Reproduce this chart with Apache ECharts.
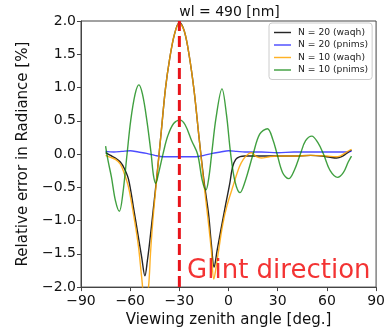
<!DOCTYPE html>
<html>
<head>
<meta charset="utf-8">
<script src="https://cdn.jsdelivr.net/npm/echarts@6/dist/echarts.min.js"></script>
<style>html,body{margin:0;padding:0;background:#fff}#c{width:388px;height:333px}</style>
</head>
<body>
<div id="c"></div>
<script>
const titleText = 'wl = 490 [nm]';
const xName = 'Viewing zenith angle [deg.]';
const yName = 'Relative error in Radiance [%]';
const seriesNames = ['N = 20 (waqh)', 'N = 20 (pnims)', 'N = 10 (waqh)', 'N = 10 (pnims)'];
const xTicks = [-90, -60, -30, 0, 30, 60, 90];
const yTicks = [-2.0, -1.5, -1.0, -0.5, 0.0, 0.5, 1.0, 1.5, 2.0];
const glintAngle = -30;
const glintLabel = 'Glint direction';

const n20waqh = [[-75,0.02],[-72,-0.02],[-69,-0.06],[-66,-0.12],[-63.5,-0.22],[-61,-0.38],[-58,-0.8],[-55,-1.25],[-53,-1.55],[-51,-1.83],[-49.5,-1.6],[-48,-1.3],[-46,-0.85],[-44,-0.4],[-41,0.35],[-38.5,0.98],[-36,1.42],[-33,1.8],[-30,1.98],[-27,1.85],[-24,1.48],[-21,0.95],[-18,0.25],[-15,-0.4],[-12.2,-0.9],[-10.5,-1.35],[-8.8,-1.7],[-7,-1.45],[-4,-1.05],[-1.7,-0.75],[0.7,-0.45],[2.4,-0.2],[4.4,-0.08],[7,-0.04],[10,-0.03],[20,-0.03],[30,-0.03],[40,-0.03],[50,-0.02],[57,-0.03],[62,-0.05],[66,-0.06],[69,-0.04],[72,0.01],[75,0.06]];
const n20pnims = [[-75,0.04],[-70,0.03],[-65,0.04],[-60,0.05],[-55,0.03],[-50,0.01],[-45,-0.02],[-40,-0.04],[-30,-0.04],[-20,-0.04],[-15,-0.02],[-10,0.01],[-5,0.03],[0,0.05],[5,0.04],[10,0.03],[20,0.03],[30,0.02],[40,0.03],[50,0.03],[60,0.03],[70,0.03],[75,0.04]];
const n10waqh = [[-75,-0.02],[-72,-0.05],[-69,-0.08],[-66,-0.15],[-63.5,-0.3],[-61,-0.5],[-58,-0.9],[-55,-1.38],[-53,-1.85],[-51,-2.25],[-49,-2.05],[-47.5,-1.45],[-46,-0.95],[-44,-0.42],[-41,0.35],[-38.5,0.98],[-36,1.42],[-33,1.8],[-30,1.97],[-27,1.85],[-24,1.48],[-21,0.95],[-18,0.25],[-15,-0.45],[-12.2,-1.05],[-10.5,-1.45],[-9,-1.88],[-7,-1.6],[-3.7,-1.08],[-1,-0.78],[2.5,-0.5],[6.5,-0.2],[9,-0.08],[12,0.0],[14,0.02],[17,-0.04],[20,-0.06],[25,-0.04],[30,-0.03],[40,-0.03],[50,-0.02],[60,-0.03],[65,-0.04],[68,-0.03],[72,0.03],[75,0.07]];
const n10pnims = [[-75,0.12],[-73.5,-0.1],[-71.4,-0.35],[-69,-0.7],[-66.6,-0.86],[-64.5,-0.6],[-61.9,0.0],[-59.7,0.5],[-57,0.9],[-54.7,1.04],[-52.5,0.9],[-49.8,0.5],[-47.2,0.0],[-45.8,-0.32],[-44.4,-0.44],[-42.8,-0.3],[-40,0.0],[-37.1,0.27],[-33.5,0.46],[-29.6,0.51],[-26.5,0.44],[-22.5,0.2],[-18.9,0.0],[-16,-0.4],[-13.8,-0.54],[-12,-0.35],[-10.3,0.0],[-7.6,0.55],[-4,0.98],[-1.3,0.6],[1.3,0.0],[4,-0.42],[7,-0.58],[10,-0.42],[15,0.0],[19,0.3],[23.7,0.38],[27,0.22],[29.6,0.0],[33,-0.28],[36.7,-0.37],[40,-0.25],[43.8,0.0],[47,0.2],[50.8,0.27],[54.5,0.17],[57.9,0.0],[62,-0.25],[66.5,-0.35],[70,-0.28],[73,-0.12],[75,-0.03]];
const glintLine = [[glintAngle, -2], [glintAngle, 2]];
const glintText = [[-25.3, -1.99]];

const colors = ['rgba(0,0,0,0.85)', 'rgba(0,0,255,0.7)', 'rgba(255,165,0,0.85)', 'rgba(0,128,0,0.75)'];
const font = 'DejaVu Sans';
const fmt = v => (v < 0 ? '\u2212' : '') + Math.abs(v);
const fmtY = v => (v < 0 ? '\u2212' : '') + Math.abs(v).toFixed(1);

function lineSeries(name, data, color) {
  return {
    name, type: 'line', data, smooth: 0.35, showSymbol: false, symbol: 'none',
    lineStyle: { color, width: 1.4 }, itemStyle: { color }, clip: true, animation: false
  };
}

const chart = echarts.init(document.getElementById('c'), null, { renderer: 'canvas' });
chart.setOption({
  animation: false,
  backgroundColor: '#fff',
  grid: { left: 81, right: 10, top: 21, bottom: 41, show: true, borderColor: '#444', borderWidth: 1, backgroundColor: 'transparent' },
  graphic: [{
    type: 'text', x: 229.5, y: 12,
    style: { text: titleText, align: 'center', verticalAlign: 'middle', font: '14px "DejaVu Sans"', fill: '#111' }
  }],
  legend: {
    data: seriesNames, orient: 'vertical', left: 269, top: 23,
    padding: [5, 4, 5, 5], itemGap: 3.5, itemWidth: 17, itemHeight: 10,
    borderColor: '#ccc', borderWidth: 1, borderRadius: 3, backgroundColor: 'rgba(255,255,255,0.8)',
    textStyle: { fontFamily: font, fontSize: 9.2, color: '#222', padding: [0, 0, 0, 2] },
    icon: 'path://M0,4.3 L20,4.3 L20,6 L0,6 Z'
  },
  xAxis: {
    type: 'value', min: -90, max: 90, interval: 30,
    name: xName, nameLocation: 'middle', nameGap: 20,
    nameTextStyle: { fontFamily: font, fontSize: 15, color: '#111' },
    axisLine: { show: true, onZero: false, lineStyle: { color: '#444', width: 1 } },
    axisTick: { show: true, length: 4, lineStyle: { color: '#444' } },
    axisLabel: { formatter: fmt, fontFamily: font, fontSize: 14, color: '#111', margin: 7 },
    splitLine: { show: false }
  },
  yAxis: {
    type: 'value', min: -2, max: 2, interval: 0.5,
    name: yName, nameLocation: 'middle', nameGap: 43,
    nameTextStyle: { fontFamily: font, fontSize: 15, color: '#111' },
    axisLine: { show: true, onZero: false, lineStyle: { color: '#444', width: 1 } },
    axisTick: { show: true, length: 4, lineStyle: { color: '#444' } },
    axisLabel: { formatter: fmtY, fontFamily: font, fontSize: 14, color: '#111', margin: 5 },
    splitLine: { show: false }
  },
  series: [
    lineSeries(seriesNames[0], n20waqh, colors[0]),
    lineSeries(seriesNames[1], n20pnims, colors[1]),
    lineSeries(seriesNames[2], n10waqh, colors[2]),
    lineSeries(seriesNames[3], n10pnims, colors[3]),
    {
      name: 'glint', type: 'line', data: glintLine, showSymbol: false, symbol: 'none',
      lineStyle: { color: '#e8141b', width: 3, type: [11, 5] }, z: 5, animation: false
    },
    {
      name: 'glintText', type: 'scatter', data: glintText, symbolSize: 0, z: 6, clip: false,
      label: {
        show: true, formatter: glintLabel, position: [0, 0], align: 'left', verticalAlign: 'bottom',
        fontFamily: font, fontSize: 26, color: '#f00000', lineHeight: 30
      }, animation: false
    }
  ]
});
</script>
</body>
</html>
